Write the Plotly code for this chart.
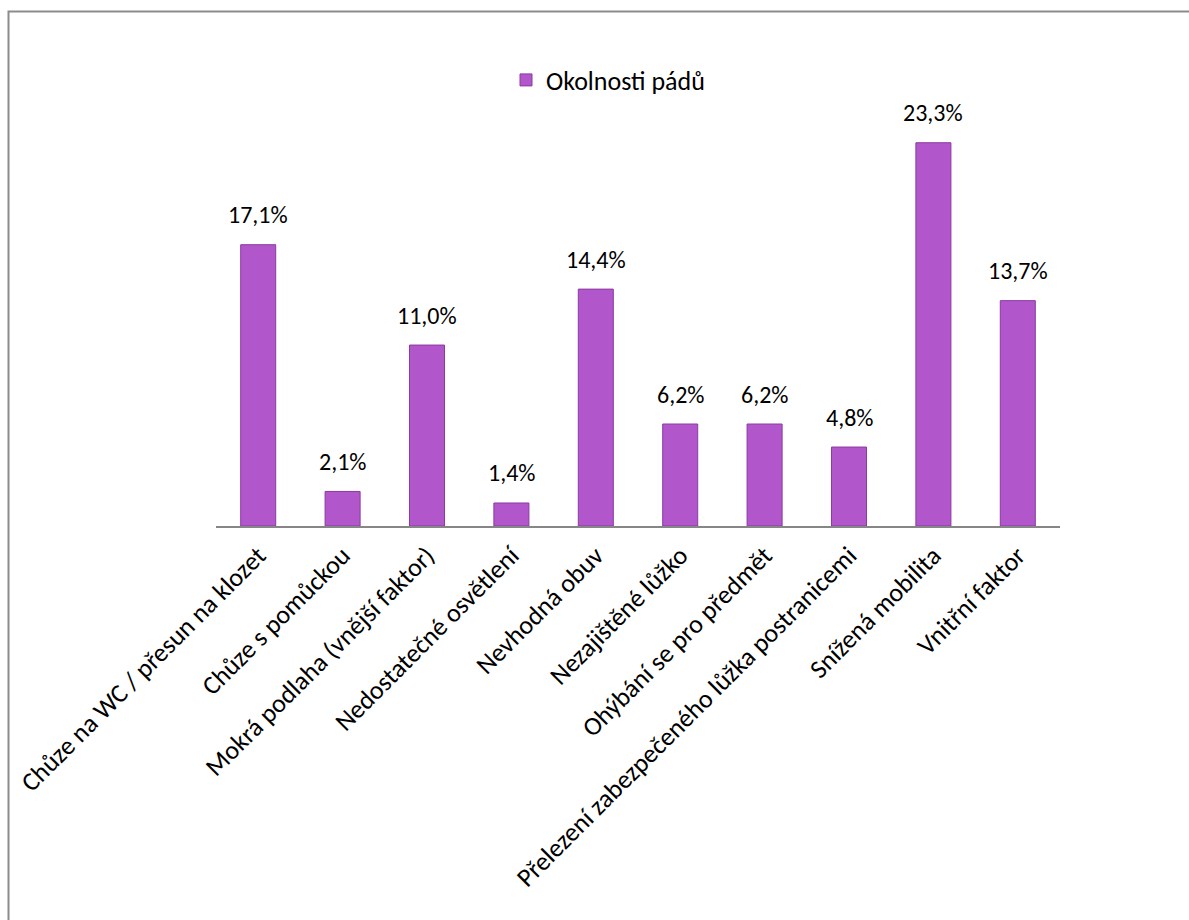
import plotly.graph_objects as go

categories = [
    "Chůze na WC / přesun na klozet",
    "Chůze s pomůckou",
    "Mokrá podlaha (vnější faktor)",
    "Nedostatečné osvětlení",
    "Nevhodná obuv",
    "Nezajištěné lůžko",
    "Ohýbání se pro předmět",
    "Přelezení zabezpečeného lůžka postranicemi",
    "Snížená mobilita",
    "Vnitřní faktor",
]
values = [17.1, 2.1, 11.0, 1.4, 14.4, 6.2, 6.2, 4.8, 23.3, 13.7]
series_name = "Okolnosti pádů"

W, H = 1189, 920
L, R, T, B = 216, 129, 100, 394
pw, ph = W - L - R, H - T - B

FONT = "Carlito, Calibri, Lato, sans-serif"

fig = go.Figure()
fig.add_trace(go.Bar(
    x=categories, y=values, name=series_name,
    marker=dict(color="#b256cb", line=dict(color="#8b3aa3", width=1)),
    cliponaxis=False, showlegend=True,
))

for c, v in zip(categories, values):
    fig.add_annotation(x=c, y=v, text=f"{v:.1f}%".replace(".", ","),
                       showarrow=False, yshift=30, yanchor="middle",
                       font=dict(family=FONT, size=24, color="black"))

def px_x(p):
    return (p - L) / pw

def px_y(p):
    return (H - B - p) / ph

fig.update_layout(
    width=W, height=H,
    margin=dict(l=L, r=R, t=T, b=B, autoexpand=False),
    paper_bgcolor="white", plot_bgcolor="white",
    separators=",.",
    bargap=0.585,
    font=dict(family=FONT, size=26, color="black"),
    showlegend=True,
    legend=dict(orientation="h", x=px_x(506), y=px_y(80), xanchor="left", yanchor="middle",
                font=dict(family=FONT, size=26, color="black"), bgcolor="rgba(0,0,0,0)",
                itemwidth=30),
    xaxis=dict(tickangle=-45, showline=True, linecolor="#868686", linewidth=2,
               ticks="", showgrid=False, automargin=False, ticklabelstandoff=2,
               tickfont=dict(family=FONT, size=26, color="black")),
    yaxis=dict(range=[0, ph / 16.45], visible=False, showgrid=False, zeroline=False),
    shapes=[dict(type="rect", xref="paper", yref="paper",
                 x0=px_x(8.5), x1=px_x(1200), y0=px_y(930), y1=px_y(11.5),
                 line=dict(color="#8c8c8c", width=2), fillcolor="rgba(0,0,0,0)", layer="below")],
)

fig.write_html("out.html")
